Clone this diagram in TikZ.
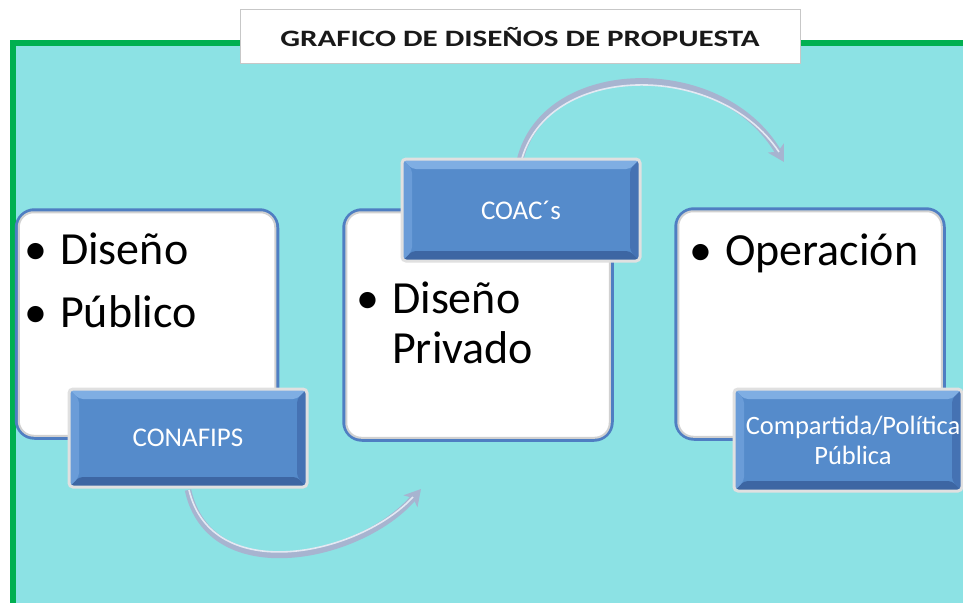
\documentclass[tikz,border=0pt]{standalone}
\usepackage{fontspec}
\setmainfont{Carlito}
\usetikzlibrary{arrows.meta}
\definecolor{teal1}{HTML}{8CE2E4}
\definecolor{frameg}{HTML}{00B050}
\definecolor{boxblue}{HTML}{4F7EC2}
\definecolor{lblue}{HTML}{558BCB}
\definecolor{lbluetop}{HTML}{7FAEE3}
\definecolor{lbluebot}{HTML}{3D66A3}
\definecolor{lblueside}{HTML}{6A9CD8}
\definecolor{lbluerside}{HTML}{4572B3}
\definecolor{arrowc}{HTML}{A7B4D0}
\definecolor{arrowhi}{HTML}{E4E9F3}
\tikzset{
  mainbox/.style={draw=boxblue, line width=3.5pt, fill=white, rounded corners=18pt, inner sep=0pt},
  innerline/.style={draw=black!18, line width=2pt, rounded corners=15pt},
  lblbox/.style={draw=black!12, line width=3pt, fill=lblue, rounded corners=4pt, inner sep=0pt,
    path picture={
      \fill[lbluetop] (path picture bounding box.north west) -- (path picture bounding box.north east)
        -- ([shift={(-10pt,-10pt)}]path picture bounding box.north east) -- ([shift={(10pt,-10pt)}]path picture bounding box.north west) -- cycle;
      \fill[lbluebot] (path picture bounding box.south west) -- (path picture bounding box.south east)
        -- ([shift={(-10pt,10pt)}]path picture bounding box.south east) -- ([shift={(10pt,10pt)}]path picture bounding box.south west) -- cycle;
      \fill[lblueside] (path picture bounding box.north west) -- ([shift={(10pt,-10pt)}]path picture bounding box.north west)
        -- ([shift={(10pt,10pt)}]path picture bounding box.south west) -- (path picture bounding box.south west) -- cycle;
      \fill[lbluerside] (path picture bounding box.north east) -- ([shift={(-10pt,-10pt)}]path picture bounding box.north east)
        -- ([shift={(-10pt,10pt)}]path picture bounding box.south east) -- (path picture bounding box.south east) -- cycle;
    }},
  lbltext/.style={text=white, font=\fontsize{27}{32}\selectfont, align=center, inner sep=0pt},
  bigtext/.style={font=\fontsize{46}{50}\selectfont, anchor=base west, inner sep=0pt},
  arrowbody/.style={draw=arrowc, line width=6.5pt, -{Stealth[length=16pt,width=18pt,inset=4pt]}},
  arrowhigh/.style={draw=arrowhi, line width=1.6pt},
}
\newcommand{\blt}[1]{\llap{•\hspace{#1}}}
\begin{document}
\begin{tikzpicture}[x=1pt,y=-1pt]
\useasboundingbox (0,0) rectangle (963,602);
\fill[white] (0,0) rectangle (963,602);
% frame
\draw[frameg, line width=6pt, fill=teal1] (13,43) rectangle (975,615);
% title
\node[draw=black!22, line width=1pt, fill=white, minimum width=560, minimum height=54, inner sep=0pt,
  font=\bfseries\fontsize{23.5}{26}\selectfont, text=black!90] (title) at (520,37) {\scalebox{1.32}[1]{GRAFICO DE DISEÑOS DE PROPUESTA}};
% main boxes
\node[mainbox, minimum width=261, minimum height=228] (b1) at (147,324) {};
\node[mainbox, minimum width=268, minimum height=230] (b2) at (478,325) {};
\node[mainbox, minimum width=268, minimum height=230] (b3) at (810,324) {};
\draw[innerline] ([shift={(4pt,-4pt)}]b1.north west) rectangle ([shift={(-4pt,4pt)}]b1.south east);
\draw[innerline] ([shift={(4pt,-4pt)}]b2.north west) rectangle ([shift={(-4pt,4pt)}]b2.south east);
\draw[innerline] ([shift={(4pt,-4pt)}]b3.north west) rectangle ([shift={(-4pt,4pt)}]b3.south east);
% box texts
\node[bigtext] (t1a) at (60,264) {\blt{13pt}Diseño};
\node[bigtext] (t1b) at (60,327) {\blt{13pt}Público};
\node[bigtext] (t2a) at (392,313) {\blt{13pt}Diseño};
\node[bigtext] (t2b) at (392,363) {Privado};
\node[bigtext] (t3a) at (725,265) {\blt{13pt}Operación};
% arrows
\coordinate (a1s) at (188,490);
\coordinate (a1e) at (421,489);
\coordinate (a2s) at (520,160);
\coordinate (a2e) at (784,162);
\draw[arrowbody] (a1s) .. controls (210,590) and (360,560) .. (a1e);
\draw[arrowhigh] ([shift={(1pt,0pt)}]a1s) .. controls (212,586) and (358,556) .. ([shift={(-8pt,-8pt)}]a1e);
\draw[arrowbody] (a2s) .. controls (545,58) and (722,55) .. (a2e);
\draw[arrowhigh] ([shift={(1pt,-2pt)}]a2s) .. controls (546,62) and (718,60) .. ([shift={(-5pt,10pt)}]a2e);
% label boxes
\node[lblbox, minimum width=238, minimum height=98] (conafips) at (188,438) {};
\node[lbltext] at (conafips.center) {CONAFIPS};
\node[lblbox, minimum width=238, minimum height=102] (coac) at (521,210) {};
\node[lbltext] at (coac.center) {COAC´s};
\node[lblbox, minimum width=228, minimum height=102] (comp) at (848,440) {};
\node[lbltext, font=\fontsize{26.5}{30}\selectfont] at ([xshift=5pt]comp.center) {Compartida/Política\\Pública};
\end{tikzpicture}
\end{document}
